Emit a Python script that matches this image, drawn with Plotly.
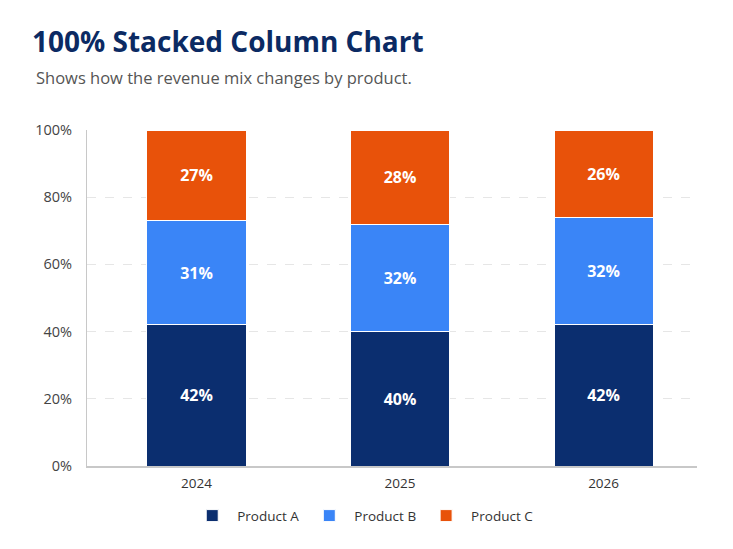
import plotly.graph_objects as go

years = ["2024", "2025", "2026"]
product_a = [42, 40, 42]
product_b = [31, 32, 32]
product_c = [27, 28, 26]

series = [
    ("Product A", product_a, "#0b2e6f"),
    ("Product B", product_b, "#3a85f7"),
    ("Product C", product_c, "#e8520a"),
]

fig = go.Figure()
for name, vals, color in series:
    fig.add_trace(go.Bar(
        x=years, y=vals, name=name,
        marker=dict(color=color, line=dict(color="white", width=1)),
        text=[f"{v}%" for v in vals],
        textposition="inside", insidetextanchor="middle",
        textfont=dict(color="white", size=16, family="Open Sans", weight="bold"),
    ))

# the page adds an 8px body margin, so the margins are shifted to compensate
fig.update_layout(
    barmode="stack",
    bargap=0.5135,
    width=733, height=549,
    margin=dict(l=79, r=44, t=122, b=91, autoexpand=False),
    paper_bgcolor="white", plot_bgcolor="white",
    font=dict(family="Open Sans", color="#444"),
    showlegend=True,
    legend=dict(orientation="h", traceorder="normal", x=0.452, xanchor="center",
                yref="container", y=0.075, yanchor="middle",
                font=dict(size=13.5, color="#333"), itemwidth=40),
    uniformtext=dict(minsize=10, mode="show"),
)
fig.update_xaxes(range=[-0.538, 2.459], showline=True, linecolor="#c8c8c8", linewidth=1.5,
                 tickfont=dict(size=13.5, color="#333"), ticks="", ticklabelstandoff=4)
fig.update_yaxes(range=[0, 100], dtick=20, ticksuffix="%", showgrid=True,
                 gridcolor="#e6e6e6", griddash="dash", showline=True,
                 linecolor="#c8c8c8", tickfont=dict(size=14.5, color="#444"),
                 zeroline=False, ticklabelstandoff=11)

fig.add_annotation(text="<b>100% Stacked Column Chart</b>", xref="paper", yref="paper",
                   x=-0.0935, y=1.265, xanchor="left", yanchor="middle", showarrow=False,
                   font=dict(size=28, color="#0b2a63", family="Open Sans"))
fig.add_annotation(text="Shows how the revenue mix changes by product.", xref="paper",
                   yref="paper", x=-0.087, y=1.155, xanchor="left", yanchor="middle",
                   showarrow=False, font=dict(size=16.5, color="#555"))

fig.write_html("out.html")
